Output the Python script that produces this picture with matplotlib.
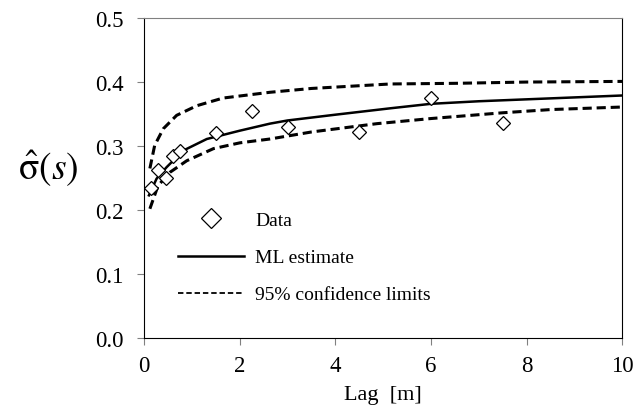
import matplotlib
matplotlib.use('Agg')
import matplotlib.pyplot as plt

plt.rcParams['font.family'] = ['Liberation Serif', 'DejaVu Serif']
plt.rcParams['mathtext.fontset'] = 'stix'

# Data points (lag [m], sigma)
lag_data = [0.15, 0.30, 0.45, 0.60, 0.75, 1.5, 2.25, 3.0, 4.5, 6.0, 7.5]
sigma_data = [0.234, 0.263, 0.250, 0.284, 0.292, 0.321, 0.355, 0.329, 0.322, 0.375, 0.336]

# ML estimate curve
lag_ml = [0.10, 0.26, 0.47, 0.82, 1.31, 2.0, 2.63, 3.0, 4.0, 5.15, 6.0, 7.0, 8.0, 9.0, 10.0]
sigma_ml = [0.223, 0.249, 0.267, 0.293, 0.311, 0.324, 0.335, 0.340, 0.349, 0.359, 0.366, 0.370, 0.373, 0.376, 0.379]

# 95% confidence limits
lag_up = [0.12, 0.22, 0.40, 0.68, 1.10, 1.65, 2.63, 3.5, 5.15, 6.5, 8.0, 10.0]
sigma_up = [0.265, 0.301, 0.327, 0.348, 0.363, 0.375, 0.384, 0.390, 0.397, 0.398, 0.400, 0.401]
lag_lo = [0.12, 0.29, 0.54, 0.89, 1.45, 2.0, 2.63, 3.5, 4.87, 6.0, 7.5, 8.5, 10.0]
sigma_lo = [0.202, 0.238, 0.259, 0.277, 0.296, 0.305, 0.311, 0.322, 0.335, 0.343, 0.352, 0.357, 0.361]

fig = plt.figure(figsize=(6.35, 4.14), dpi=100)
ax = fig.add_axes([0.227, 0.181, 0.753, 0.773])

ax.plot(lag_data, sigma_data, linestyle='none', marker='D', markersize=7.5,
        markerfacecolor='white', markeredgecolor='black', markeredgewidth=0.9, label='Data', zorder=3)
ax.plot(lag_ml, sigma_ml, color='black', linewidth=1.8, label='ML estimate')
ax.plot(lag_up, sigma_up, color='black', linewidth=2.2, linestyle=(0, (3, 1.6)), label='95% confidence limits')
ax.plot(lag_lo, sigma_lo, color='black', linewidth=2.2, linestyle=(0, (3, 1.6)))

ax.set_xlim(0, 10)
ax.set_ylim(0, 0.5)
ax.set_xticks([0, 2, 4, 6, 8, 10])
ax.set_yticks([0.0, 0.1, 0.2, 0.3, 0.4, 0.5])
ax.set_yticklabels(['0.0', '0.1', '0.2', '0.3', '0.4', '0.5'])
ax.tick_params(axis='both', direction='out', length=5, color='#808080', labelsize=16.5)
ax.tick_params(axis='y', pad=10)
ax.tick_params(axis='x', pad=7)
ax.spines['top'].set_color('#808080')

ax.set_xlabel('Lag  [m]', fontsize=16, labelpad=7)
ax.set_ylabel(r'$\hat{\mathrm{\sigma}}(s)$', fontsize=27, rotation=0)
ax.yaxis.set_label_coords(-0.2, 0.47)

leg = ax.legend(loc='upper left', bbox_to_anchor=(0.07, 0.395), frameon=False,
                fontsize=14, handlelength=3.4, handletextpad=0.6, labelspacing=1.0,
                borderpad=0, borderaxespad=0, markerscale=1.3)
leg.get_lines()[2].set_linewidth(1.3)

fig.savefig('out.png', dpi=100)
